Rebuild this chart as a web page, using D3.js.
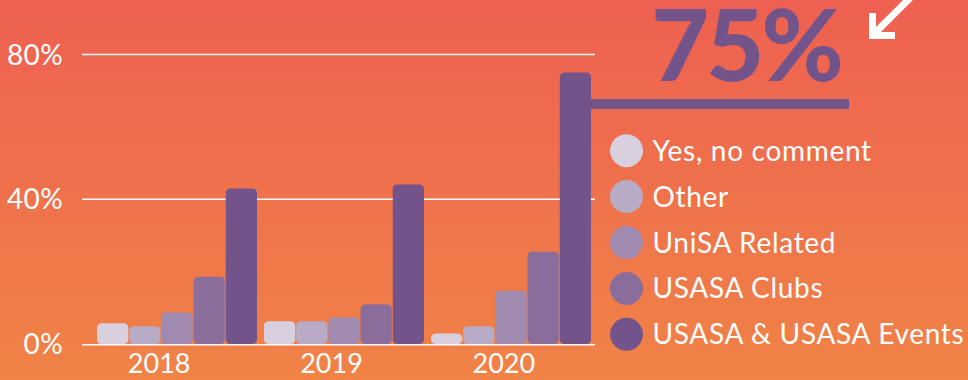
<!DOCTYPE html>
<html>
<head>
<meta charset="utf-8">
<script src="https://cdn.jsdelivr.net/npm/d3@7"></script>
<style>
  html, body { margin: 0; padding: 0; background: #ef7048; }
  svg { display: block; }
</style>
</head>
<body>
<svg id="chart" width="968" height="380"></svg>
<script>
// Source of hearing about the survey, share of responses per year
const years = ["2018", "2019", "2020"];
const seriesNames = ["Yes, no comment", "Other", "UniSA Related", "USASA Clubs", "USASA & USASA Events"];
const yesNoComment = [5.7, 6.3, 2.9];
const other = [4.9, 6.3, 4.9];
const unisaRelated = [8.7, 7.3, 14.7];
const usasaClubs = [18.6, 10.9, 25.5];
const usasaEvents = [43.0, 44.1, 75.0];
const yTicks = [0, 40, 80];
const callout = "75%";

const seriesValues = [yesNoComment, other, unisaRelated, usasaClubs, usasaEvents];
const colors = ["#d8d0df", "#b8abc5", "#a08aaf", "#8a6d9b", "#72548a"];
const font = "Lato, 'Open Sans', sans-serif";

const svg = d3.select("#chart");
const W = 968, H = 380;

// background gradient, red at the top fading into orange
const defs = svg.append("defs");
const grad = defs.append("linearGradient").attr("id", "bg").attr("x1", 0).attr("y1", 0).attr("x2", 0).attr("y2", 1);
grad.append("stop").attr("offset", "0%").attr("stop-color", "#ee6051");
grad.append("stop").attr("offset", "100%").attr("stop-color", "#f08346");
svg.append("rect").attr("width", W).attr("height", H).attr("fill", "url(#bg)");

// scales
const y = d3.scaleLinear().domain([0, 80]).range([344, 54.5]);
const xGroup = d3.scaleBand().domain(years).range([97, 591]).paddingInner(0.042).paddingOuter(0);
const xBar = d3.scaleBand().domain(d3.range(seriesNames.length)).range([0, xGroup.bandwidth()]).paddingInner(0.03);
const xLabel = d3.scaleBand().domain(years).range([73, 590]).padding(0);

// gridlines
svg.append("g").selectAll("line").data(yTicks).join("line")
  .attr("x1", 82).attr("x2", 595)
  .attr("y1", d => y(d) + (d === 0 ? 0.8 : 0)).attr("y2", d => y(d) + (d === 0 ? 0.8 : 0))
  .attr("stroke", "#fff").attr("stroke-width", d => d === 0 ? 1.6 : 1.3);

// y tick labels
svg.append("g").selectAll("text").data(yTicks).join("text")
  .attr("x", 63).attr("y", d => y(d))
  .attr("dy", "0.36em")
  .attr("text-anchor", "end")
  .attr("fill", "#fff")
  .attr("font-family", font).attr("font-size", 28)
  .attr("letter-spacing", 0.4)
  .text(d => d + "%");

// bars
const flat = [];
years.forEach((yr, gi) => seriesValues.forEach((vals, si) => flat.push({ yr, si, v: vals[gi] })));
svg.append("g").selectAll("rect").data(flat).join("rect")
  .attr("x", d => xGroup(d.yr) + xBar(d.si))
  .attr("width", xBar.bandwidth())
  .attr("y", d => y(d.v))
  .attr("height", d => y(0) - y(d.v))
  .attr("rx", 4.5)
  .attr("fill", d => colors[d.si]);

// year labels
svg.append("g").selectAll("text").data(years).join("text")
  .attr("x", d => xLabel(d) + xLabel.bandwidth() / 2)
  .attr("y", 373)
  .attr("text-anchor", "middle")
  .attr("fill", "#fff")
  .attr("font-family", font).attr("font-size", 27)
  .text(d => d);

// callout for the 2020 USASA bar
const calloutY = 104;
svg.append("line")
  .attr("x1", xGroup("2020") + xBar(4) + xBar.bandwidth() - 2).attr("x2", 849)
  .attr("y1", calloutY).attr("y2", calloutY)
  .attr("stroke", "#72548a").attr("stroke-width", 10);
svg.append("text")
  .attr("x", 746).attr("y", 81)
  .attr("text-anchor", "middle")
  .attr("fill", "#72548a")
  .attr("font-family", font).attr("font-weight", 900).attr("font-size", 100)
  .attr("letter-spacing", -3)
  .text(callout);

// arrow pointing to the callout
const arrow = svg.append("g").attr("stroke", "#fff").attr("stroke-width", 7).attr("fill", "none");
arrow.append("line").attr("x1", 912).attr("y1", -4).attr("x2", 875).attr("y2", 33);
arrow.append("path").attr("d", "M872.5,13 L872.5,35.5 L895,35.5").attr("stroke-linejoin", "miter");

// legend
const legend = svg.append("g").selectAll("g").data(seriesNames).join("g")
  .attr("transform", (d, i) => `translate(626.5, ${150.7 + i * 45.9})`);
legend.append("circle").attr("r", 16.5).attr("fill", (d, i) => colors[i]);
legend.append("text")
  .attr("x", 26).attr("dy", "0.36em")
  .attr("fill", "#fff")
  .attr("font-family", font).attr("font-size", 28)
  .attr("letter-spacing", 0.7)
  .text(d => d);
</script>
</body>
</html>
